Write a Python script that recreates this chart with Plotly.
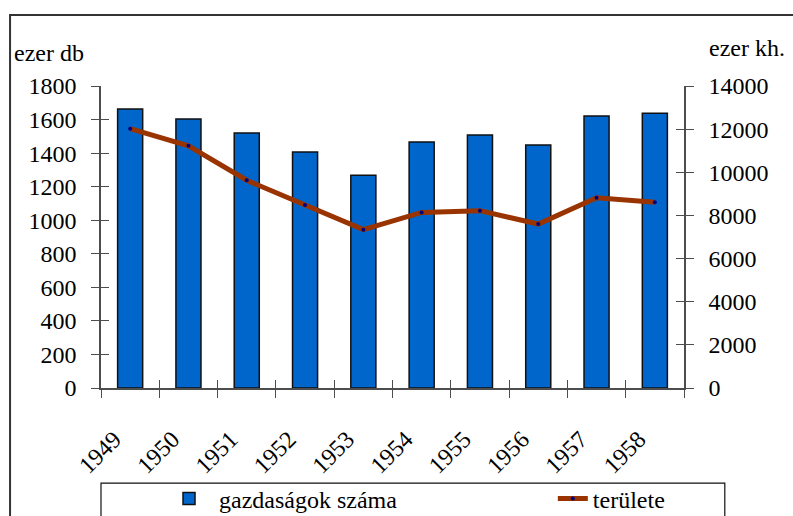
import plotly.graph_objects as go

# ── data ──────────────────────────────────────────────────────────────────────
years = ["1949", "1950", "1951", "1952", "1953", "1954", "1955", "1956", "1957", "1958"]
farms_count = [1663, 1603, 1520, 1406, 1268, 1466, 1508, 1448, 1621, 1637]   # ezer db
farms_area = [12020, 11230, 9630, 8480, 7340, 8140, 8220, 7600, 8820, 8610]  # ezer kh.

FONT = "Liberation Serif"
AXIS_COLOR = "#4d4d4d"
FS = 24

fig = go.Figure()

fig.add_trace(
    go.Bar(
        x=years,
        y=farms_count,
        name="gazdaságok száma",
        marker=dict(color="#0066cc", line=dict(color="#111111", width=1.5)),
        width=0.43,
        yaxis="y",
        legend="legend",
    )
)

fig.add_trace(
    go.Scatter(
        x=years,
        y=farms_area,
        name="területe",
        mode="lines+markers",
        line=dict(color="#993300", width=5),
        marker=dict(size=4, color="#000080"),
        yaxis="y2",
        legend="legend2",
    )
)

# invisible carriers so the helper axes (inner half of the crossing ticks) get drawn
for xa, ya, yy in (("x2", "y", farms_count), ("x", "y3", farms_count), ("x", "y4", farms_area)):
    fig.add_trace(
        go.Scatter(
            x=years, y=yy, xaxis=xa, yaxis=ya, mode="markers",
            marker=dict(opacity=0), hoverinfo="skip", showlegend=False,
        )
    )

# ── layout ────────────────────────────────────────────────────────────────────
tick_font = dict(family=FONT, size=FS, color="black")
legend_font = dict(family=FONT, size=FS, color="black")
inner_ticks = dict(
    ticks="inside", ticklen=8, tickcolor=AXIS_COLOR, showticklabels=False,
    showline=False, showgrid=False, zeroline=False,
)

fig.update_layout(
    width=793,
    height=516,
    margin=dict(l=101, r=109, t=86, b=128, autoexpand=False),
    paper_bgcolor="white",
    plot_bgcolor="white",
    font=dict(family=FONT, size=FS, color="black"),
    showlegend=True,
    legend=dict(
        orientation="h",
        x=0.0995,
        xanchor="left",
        y=-0.293,
        yanchor="top",
        font=legend_font,
        bgcolor="rgba(0,0,0,0)",
        itemwidth=50,
    ),
    legend2=dict(
        orientation="h",
        x=0.775,
        xanchor="left",
        y=-0.293,
        yanchor="top",
        font=legend_font,
        bgcolor="rgba(0,0,0,0)",
        itemwidth=30,
    ),
    xaxis=dict(
        type="category",
        categoryarray=years,
        range=[-0.5, 9.5],
        tickson="boundaries",
        ticks="outside",
        ticklen=8,
        tickcolor=AXIS_COLOR,
        tickangle=-45,
        tickfont=tick_font,
        ticklabelshift=-16,
        ticklabelstandoff=26,
        showline=True,
        linecolor=AXIS_COLOR,
        linewidth=1.5,
        showgrid=False,
        zeroline=False,
    ),
    xaxis2=dict(
        overlaying="x",
        anchor="y",
        side="bottom",
        type="category",
        categoryarray=years,
        range=[-0.5, 9.5],
        tickson="boundaries",
        **inner_ticks,
    ),
    # top border of the plot area
    xaxis3=dict(
        overlaying="x",
        anchor="y",
        side="top",
        range=[-0.5, 9.5],
        showline=True,
        linecolor="#8c8c8c",
        linewidth=1.5,
        ticks="",
        showticklabels=False,
        showgrid=False,
        zeroline=False,
    ),
    yaxis=dict(
        range=[0, 1800],
        dtick=200,
        ticks="outside",
        ticklen=8,
        tickcolor=AXIS_COLOR,
        tickfont=tick_font,
        ticklabelstandoff=10,
        showline=True,
        linecolor=AXIS_COLOR,
        linewidth=1.5,
        showgrid=False,
        zeroline=False,
    ),
    yaxis2=dict(
        overlaying="y",
        side="right",
        anchor="x",
        range=[0, 14000],
        dtick=2000,
        tickformat="d",
        ticks="outside",
        ticklen=8,
        tickcolor=AXIS_COLOR,
        tickfont=tick_font,
        ticklabelstandoff=10,
        showline=True,
        linecolor=AXIS_COLOR,
        linewidth=1.5,
        showgrid=False,
        zeroline=False,
    ),
    yaxis3=dict(overlaying="y", side="left", anchor="x", range=[0, 1800], dtick=200, **inner_ticks),
    yaxis4=dict(overlaying="y", side="right", anchor="x", range=[0, 14000], dtick=2000, **inner_ticks),
)

# axis unit captions
fig.add_annotation(
    text="ezer db", xref="paper", yref="paper", x=-0.153, y=1.11,
    xanchor="left", yanchor="middle", showarrow=False,
    font=dict(family=FONT, size=FS, color="black"),
)
fig.add_annotation(
    text="ezer kh.", xref="paper", yref="paper", x=1.04, y=1.127,
    xanchor="left", yanchor="middle", showarrow=False,
    font=dict(family=FONT, size=FS, color="black"),
)

# outer chart frame and legend box
fig.add_shape(
    type="rect", xref="paper", yref="paper",
    x0=-0.156, x1=1.25, y0=-0.5, y1=1.235,
    line=dict(color="#333333", width=2), fillcolor="rgba(0,0,0,0)", layer="below",
)
fig.add_shape(
    type="rect", xref="paper", yref="paper",
    x0=0.0, x1=1.07, y0=-0.5, y1=-0.315,
    line=dict(color="#111111", width=1.2), fillcolor="rgba(0,0,0,0)", layer="below",
)

fig.write_html(
    "out.html",
    config={"displayModeBar": False},
    post_script="document.body.style.margin='0';document.body.style.padding='0';",
)
